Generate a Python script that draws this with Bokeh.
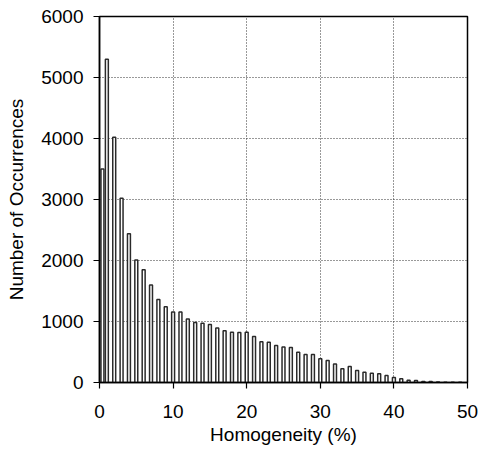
from bokeh.plotting import figure
from bokeh.models import Range1d, FixedTicker, ColumnDataSource
from bokeh.embed import file_html
from bokeh.resources import INLINE

# Histogram data (bin position in %, number of occurrences)
homogeneity = [0.4, 1, 2, 3, 4, 5, 6, 7, 8, 9,
               10, 11, 12, 13, 14, 15, 16, 17, 18, 19,
               20, 21, 22, 23, 24, 25, 26, 27, 28, 29,
               30, 31, 32, 33, 34, 35, 36, 37, 38, 39,
               40, 41, 42, 43, 44, 45, 46, 47, 48, 49]
occurrences = [3500, 5300, 4020, 3020, 2440, 2010, 1850, 1600, 1360, 1240,
               1155, 1155, 1040, 985, 970, 950, 895, 850, 825, 820,
               825, 755, 670, 660, 605, 580, 575, 497, 460, 460,
               390, 360, 305, 225, 262, 197, 169, 153, 142, 115,
               80, 60, 35, 33, 16, 16, 8, 5, 5, 3]
x_ticks = [0, 10, 20, 30, 40, 50]
y_ticks = [0, 1000, 2000, 3000, 4000, 5000, 6000]

src = ColumnDataSource(dict(x=homogeneity, y=occurrences))

p = figure(width=480, height=459, output_backend="svg", toolbar_location=None,
           x_range=Range1d(0, 50), y_range=Range1d(0, 6000),
           frame_width=368, frame_height=366,
           min_border_left=99, min_border_right=13,
           min_border_top=16, min_border_bottom=77)

p.vbar(x="x", top="y", width=0.4, bottom=0, source=src,
       fill_color="white", line_color="#2a2a2a", line_width=1.5)

FONT = "Liberation Sans"
p.xaxis.ticker = FixedTicker(ticks=x_ticks)
p.yaxis.ticker = FixedTicker(ticks=y_ticks)
p.xaxis.axis_label = "Homogeneity (%)"
p.yaxis.axis_label = "Number of Occurrences"
for ax in (p.xaxis, p.yaxis):
    ax.axis_label_text_font = FONT
    ax.axis_label_text_font_style = "normal"
    ax.axis_label_text_font_size = "19px"
    ax.axis_label_text_color = "black"
    ax.major_label_text_font = FONT
    ax.major_label_text_font_size = "19px"
    ax.major_label_text_color = "black"
    ax.axis_line_color = "black"
    ax.axis_line_width = 1.5
    ax.major_tick_line_color = "black"
    ax.major_tick_line_width = 1.2
    ax.major_tick_in = 0
    ax.major_tick_out = 6
    ax.minor_tick_line_color = None
    ax.major_label_standoff = 10

p.xaxis.major_label_standoff = 16
p.xaxis.axis_label_standoff = 3
p.yaxis.axis_label_standoff = 11

p.xgrid.ticker = FixedTicker(ticks=[10, 20, 30, 40])
p.ygrid.ticker = FixedTicker(ticks=[1000, 2000, 3000, 4000, 5000])
for g in (p.xgrid, p.ygrid):
    g.grid_line_color = "#333333"
    g.grid_line_dash = "1 2"
    g.grid_line_width = 1

p.outline_line_color = "black"
p.outline_line_width = 1.5
p.background_fill_color = "white"
p.border_fill_color = "white"

open("out.html", "w").write(file_html(p, INLINE))
